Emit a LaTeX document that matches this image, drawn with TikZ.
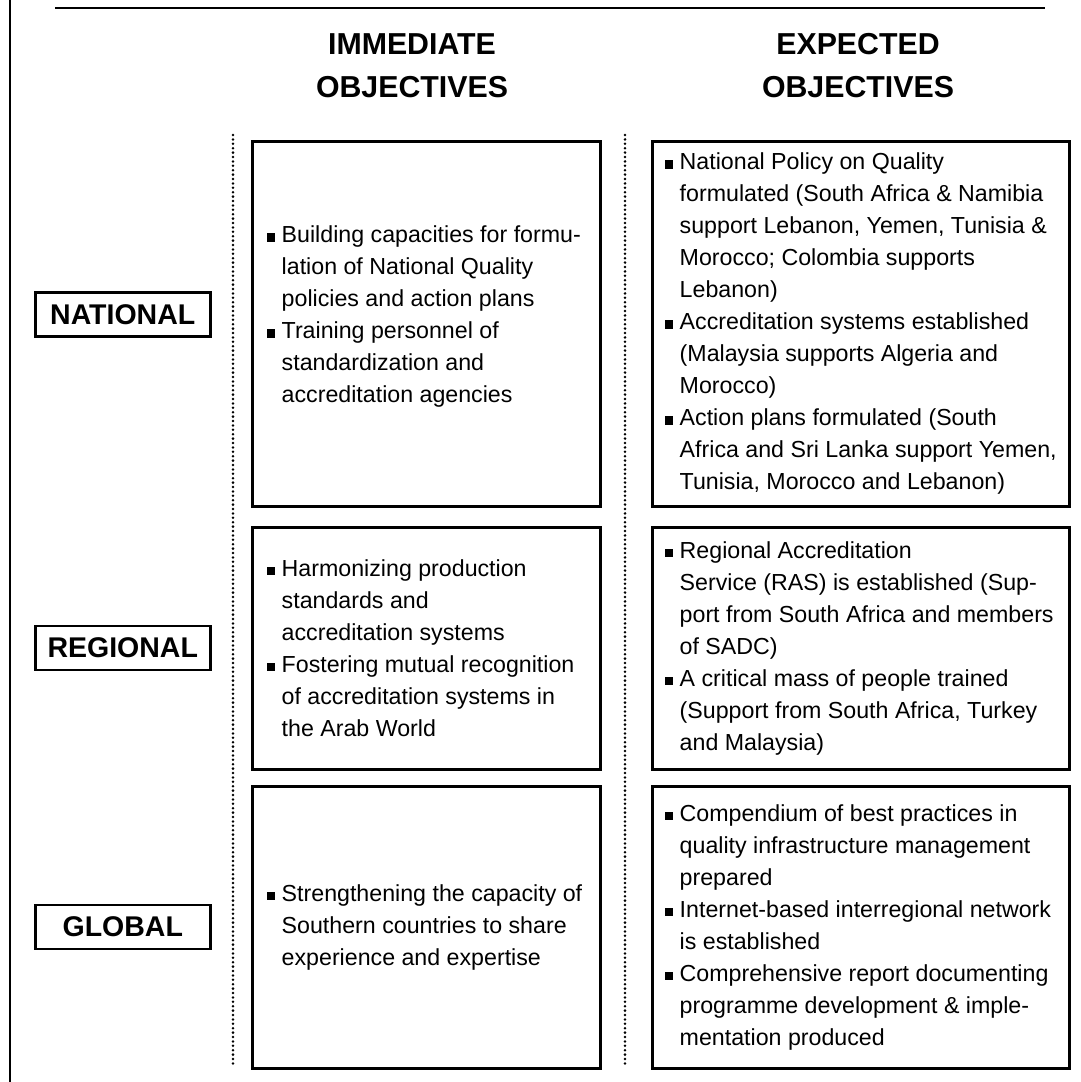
\documentclass[tikz,border=0pt]{standalone}
\usepackage{fontspec}
\setmainfont{Liberation Sans}
\usetikzlibrary{positioning}
\newcommand{\boxfont}{\fontsize{23.2}{32}\selectfont}
\newcommand{\bul}{\makebox[15pt][l]{\rule[1pt]{8.5pt}{8.5pt}}}
\newcommand{\indt}{\hspace*{15pt}}

\begin{document}
\begin{tikzpicture}[
    x=1pt, y=-1pt,
    immbox/.style={draw, line width=3pt, minimum width=348pt, inner sep=0pt},
    expbox/.style={immbox, minimum width=417pt},
    txt/.style={align=left, inner sep=0pt, font=\boxfont},
    lab/.style={draw, line width=2.5pt, minimum width=175pt, minimum height=44pt,
                inner sep=0pt, font=\bfseries\fontsize{28.5}{30}\selectfont},
    head/.style={align=center, inner sep=0pt, font=\bfseries\fontsize{30.3}{43}\selectfont},
    frame/.style={line width=2pt},
    dots/.style={line width=2.8pt, line cap=round, dash pattern=on 0pt off 4.4pt},
]
\useasboundingbox (0,0) rectangle (1080,1082);

\draw[frame] (10,0) -- (10,1082);
\draw[frame] (55,8) -- (1045,8);

\node[head] (immHead) at (412,66) {IMMEDIATE\\OBJECTIVES};
\node[head] (expHead) at (858,66) {EXPECTED\\OBJECTIVES};

\draw[dots] (233,135) -- (233,1066);
\draw[dots] (625,135) -- (625,1066);

\node[immbox, minimum height=365pt] (natImm) at (426,323.5) {};
\node[immbox, minimum height=242pt, below=18pt of natImm] (regImm) {};
\node[immbox, minimum height=282pt, below=14pt of regImm] (gloImm) {};
\node[expbox, minimum height=365pt, right=49pt of natImm] (natExp) {};
\node[expbox, minimum height=242pt, right=49pt of regImm] (regExp) {};
\node[expbox, minimum height=282pt, right=49pt of gloImm] (gloExp) {};

\node[txt, right=16pt of natImm.west, yshift=7pt] (natImmTxt) {%
\bul Building capacities for formu-\\
\indt lation of National Quality\\
\indt policies and action plans\\
\bul Training personnel of\\
\indt standardization and\\
\indt accreditation agencies};
\node[txt, right=16pt of regImm.west] (regImmTxt) {%
\bul Harmonizing production\\
\indt standards and\\
\indt accreditation systems\\
\bul Fostering mutual recognition\\
\indt of accreditation systems in\\
\indt the Arab World};
\node[txt, right=16pt of gloImm.west] (gloImmTxt) {%
\bul Strengthening the capacity of\\
\indt Southern countries to share\\
\indt experience and expertise};

\node[txt, right=14pt of natExp.west] (natExpTxt) {%
\bul National Policy on Quality\\
\indt formulated (South Africa \& Namibia\\
\indt support Lebanon, Yemen, Tunisia \&\\
\indt Morocco; Colombia supports\\
\indt Lebanon)\\
\bul Accreditation systems established\\
\indt (Malaysia supports Algeria and\\
\indt Morocco)\\
\bul Action plans formulated (South\\
\indt Africa and Sri Lanka support Yemen,\\
\indt Tunisia, Morocco and Lebanon)};
\node[txt, right=14pt of regExp.west] (regExpTxt) {%
\bul Regional Accreditation\\
\indt Service (RAS) is established (Sup-\\
\indt port from South Africa and members\\
\indt of SADC)\\
\bul A critical mass of people trained\\
\indt (Support from South Africa, Turkey\\
\indt and Malaysia)};
\node[txt, right=14pt of gloExp.west] (gloExpTxt) {%
\bul Compendium of best practices in\\
\indt quality infrastructure management\\
\indt prepared\\
\bul Internet-based interregional network\\
\indt is established\\
\bul Comprehensive report documenting\\
\indt programme development \& imple-\\
\indt mentation produced};

\node[lab, left=39pt of natImm, yshift=9pt] (natLab) {NATIONAL};
\node[lab, left=39pt of regImm] (regLab) {REGIONAL};
\node[lab, left=39pt of gloImm] (gloLab) {GLOBAL};
\end{tikzpicture}
\end{document}
